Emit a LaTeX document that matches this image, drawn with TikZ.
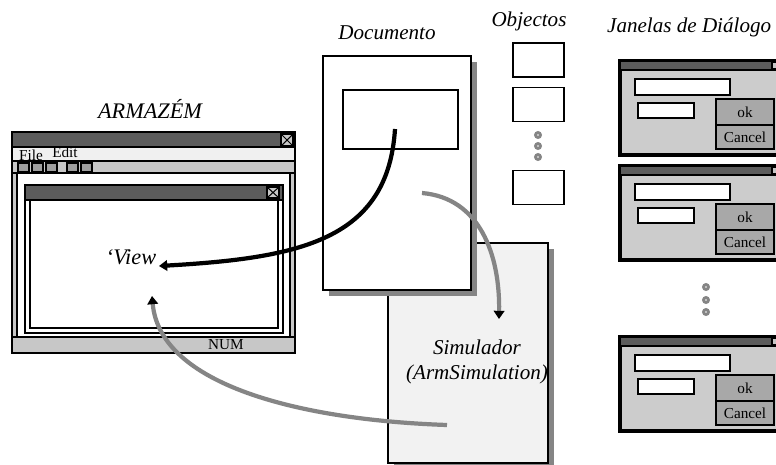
\documentclass[tikz,border=0pt]{standalone}
\usepackage{fontspec}
\setmainfont{Liberation Serif}
\usetikzlibrary{arrows.meta,shadows}
\definecolor{titlegray}{gray}{0.36}
\definecolor{bargray}{gray}{0.78}
\definecolor{menugray}{gray}{0.94}
\definecolor{keygray}{gray}{0.62}
\definecolor{linegray}{gray}{0.52}
\definecolor{simgray}{gray}{0.95}
\definecolor{dlggray}{gray}{0.8}
\definecolor{btngray}{gray}{0.66}

\begin{document}
\begin{tikzpicture}[x=0.03cm,y=-0.03cm]
\tikzset{frame/.style = {draw=black,line width=0.9pt}}
\tikzset{titlebar/.style = {frame,fill=titlegray}}
\tikzset{greybar/.style = {frame,fill=bargray}}
\tikzset{label/.style = {font=\fontsize{18}{21}\selectfont\itshape}}
\tikzset{small/.style = {font=\fontsize{13}{14}\selectfont,inner sep=0pt}}
\tikzset{page/.style = {draw,line width=1pt,inner sep=0pt,
  drop shadow={shadow xshift=5pt,shadow yshift=-5pt,opacity=1,fill=linegray}}}
\tikzset{objbox/.style = {draw,line width=1.3pt,fill=white,minimum width=1.53cm,minimum height=1.02cm}}
\tikzset{field/.style = {draw,line width=1.4pt,fill=white}}
\tikzset{button/.style = {small,draw,line width=1.3pt,fill=btngray,minimum width=1.74cm}}
\tikzset{dot/.style = {circle,draw=linegray,line width=2.2pt,fill=gray!45,inner sep=0pt,minimum size=4.5pt}}
\tikzset{link/.style = {line width=3.6pt,-{Triangle[length=7pt,width=9pt]}}}
\tikzset{greylink/.style = {line width=3.6pt,draw=linegray,-{Triangle[length=7pt,width=9pt,color=black]}}}
\useasboundingbox (0,0) rectangle (776,464);
% armazem window
\node[label,font=\fontsize{19}{21}\selectfont\itshape] (armazem) at (150,109) {ARMAZÉM};
\draw[frame,fill=white] (12,132) rectangle (295,353);
\draw[titlebar] (12,132) rectangle (295,147);
\draw[greybar] (281,134) rectangle (293,146);
\draw[frame] (281,134) -- (293,146) (281,146) -- (293,134);
\draw[frame,fill=menugray] (12,147) rectangle (295,161);
\node[small] (file) at (31,155) {File};
\node[small] (edit) at (65,152) {Edit};
\draw[greybar] (12,161) rectangle (295,173);
\draw[frame,fill=keygray] (18,163) rectangle (29,172);
\draw[frame,fill=keygray] (32,163) rectangle (43,172);
\draw[frame,fill=keygray] (46,163) rectangle (57,172);
\draw[frame,fill=keygray] (67,163) rectangle (78,172);
\draw[frame,fill=keygray] (81,163) rectangle (92,172);
\draw[greybar] (12,173) rectangle (17,337);
\draw[greybar] (290,173) rectangle (295,337);
\draw[greybar] (12,337) rectangle (295,353);
\node[small] (num) at (226,345) {NUM};
% view window
\draw[frame,line width=1.4pt,fill=white] (25,185) rectangle (283,333);
\draw[titlebar] (25,185) rectangle (283,200);
\draw[greybar] (267,187) rectangle (279,198);
\draw[frame] (267,187) -- (279,198) (267,198) -- (279,187);
\draw[frame,line width=1.4pt] (30,200) rectangle (278,328);
\node[label,font=\fontsize{19}{21}\selectfont\itshape] (view) at (131,257) {‘View};
% documento, objectos, simulador
\node[page,fill=simgray,minimum width=4.8cm,minimum height=6.6cm] (sim) at (468,353) {};
\node[label,align=center] (simtext) at (477,362) {Simulador\\(ArmSimulation)};
\node[page,fill=white,minimum width=4.44cm,minimum height=7.02cm] (doc) at (397,173) {};
\node[draw,line width=1pt,minimum width=3.45cm,minimum height=1.77cm] (docobj) at (400.5,119.5) {};
\node[label] (doctext) at (387,33) {Documento};
\node[label] (objtext) at (529,21) {Objectos};
\node[objbox] (obj1) at (538.5,60) {};
\node[objbox] (obj2) at (538.5,104.5) {};
\node[dot] (d1) at (538,135) {};
\node[dot] (d2) at (538,146) {};
\node[dot] (d3) at (538,157) {};
\node[objbox] (obj3) at (538.5,187.5) {};
% dialogos
\node[label,anchor=west] (dlgtext) at (603,27) {Janelas de Diálogo};
\foreach \ty [count=\i] in {61,166,337}{
  \draw[line width=2.8pt,fill=dlggray] (620,\ty) rectangle (780,\ty+94);
  \draw[titlebar] (620,\ty) rectangle (780,\ty+9);
  \draw[greybar] (772,\ty+1) rectangle (780,\ty+8);
  \draw[field] (635,\ty+18) rectangle (730,\ty+34);
  \draw[field] (638,\ty+42) rectangle (694,\ty+57);
  \node[button,minimum height=0.78cm] (ok\i) at (745,\ty+51) {ok};
  \node[button,minimum height=0.72cm] (cancel\i) at (745,\ty+76) {Cancel};
}
\node[dot] (e1) at (706,287) {};
\node[dot] (e2) at (706,300) {};
\node[dot] (e3) at (706,312) {};
%edges
\coordinate (docout) at (395,129);
\coordinate (viewin) at (159,266);
\coordinate (docsim) at (422,193);
\coordinate (simin) at (499,319);
\coordinate (simout) at (447,425);
\coordinate (viewup) at (152,296);
\draw[greylink] (docsim) .. controls (480,198) and (500,255) .. (simin);
\draw[greylink] (simout) .. controls (300,420) and (160,385) .. (viewup);
\draw[link] (docout) .. controls (388,240) and (300,258) .. (viewin);
\end{tikzpicture}
\end{document}
